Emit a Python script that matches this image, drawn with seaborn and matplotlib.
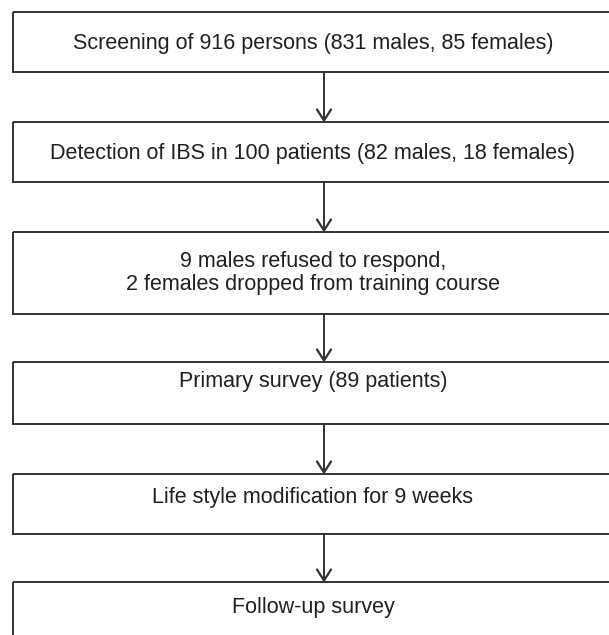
import matplotlib
matplotlib.use("Agg")
import matplotlib.pyplot as plt
import seaborn as sns
import pandas as pd
from matplotlib.patches import Rectangle

# ---- data (flowchart content) ----
steps = [
    "Screening of 916 persons (831 males, 85 females)",
    "Detection of IBS in 100 patients (82 males, 18 females)",
    "9 males refused to respond,\n2 females dropped from training course",
    "Primary survey (89 patients)",
    "Life style modification for 9 weeks",
    "Follow-up survey",
]

# ---- layout (pixels, y downwards) ----
box_top = [12, 122, 232, 362, 474, 582]
box_bot = [72, 182, 314, 424, 534, 660]
text_y = [43, 153, 273, 382, 498, 607]
box_left, box_right = 12.5, 650
arrow_x = 324

sns.set_theme(style="white")
plt.rcParams['font.family'] = ['Liberation Sans', 'DejaVu Sans']

W, H = 609, 635
fig = plt.figure(figsize=(W / 100, H / 100), dpi=100)
ax = fig.add_axes([0, 0, 1, 1])
ax.set_xlim(0, W)
ax.set_ylim(H, 0)
ax.axis("off")

line_col = "#333333"
text_col = "#231f20"

for lab, t, b, ty in zip(steps, box_top, box_bot, text_y):
    ax.add_patch(Rectangle((box_left, t), box_right - box_left, b - t,
                           fill=False, edgecolor=line_col, linewidth=1.4))
    ax.text(arrow_x - 11, ty, lab, ha="center", va="center", fontsize=15.5,
            color=text_col, linespacing=1.1)

# connectors drawn with seaborn
rows = []
for i in range(len(steps) - 1):
    rows.append({"seg": i, "x": arrow_x, "y": box_bot[i]})
    rows.append({"seg": i, "x": arrow_x, "y": box_top[i + 1] - 1})
df = pd.DataFrame(rows)
sns.lineplot(data=df, x="x", y="y", units="seg", estimator=None, sort=False,
             color=line_col, linewidth=1.4, ax=ax, legend=False)
for i in range(len(steps) - 1):
    tip = box_top[i + 1] - 1.5
    ax.plot([arrow_x - 7, arrow_x, arrow_x + 7], [tip - 11, tip, tip - 11],
            color=line_col, linewidth=1.6, solid_joinstyle="miter")

ax.set_xlim(0, W)
ax.set_ylim(H, 0)
ax.axis("off")
fig.savefig("out.png", dpi=100)
